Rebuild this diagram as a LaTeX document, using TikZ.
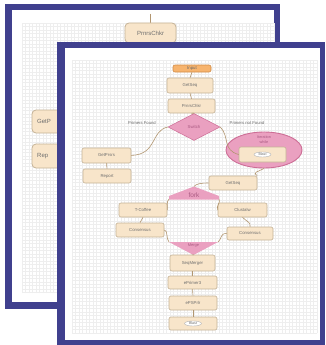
\documentclass[tikz,border=0pt]{standalone}
\usepackage{fontspec}
\setmainfont{Liberation Sans}
\usetikzlibrary{shapes.geometric}
\definecolor{frameblue}{RGB}{64,64,142}
\definecolor{boxfill}{RGB}{248,229,202}
\definecolor{boxdraw}{RGB}{196,178,150}
\definecolor{wire}{RGB}{178,150,112}
\definecolor{pinkfill}{RGB}{234,160,192}
\definecolor{pinkdraw}{RGB}{205,110,150}
\definecolor{pinktext}{RGB}{170,90,130}
\definecolor{orangefill}{RGB}{247,180,110}
\definecolor{orangedraw}{RGB}{210,140,70}
\definecolor{txt}{RGB}{110,110,110}
\definecolor{gridc}{RGB}{238,238,238}
\tikzset{
  stepbox/.style={draw=boxdraw, fill=boxfill, rounded corners=2pt, line width=0.6pt,
    inner sep=0pt, text=txt, font=\fontsize{4.3}{5}\selectfont},
  bigbox/.style={draw=boxdraw, fill=boxfill, rounded corners=4pt, line width=0.8pt,
    inner sep=0pt, text=txt, font=\fontsize{6}{7}\selectfont},
  pill/.style={ellipse, draw=gray!60, fill=white, inner sep=0pt, minimum width=17pt,
    minimum height=5pt, text=txt, font=\fontsize{3.6}{4}\selectfont},
  wireline/.style={draw=wire, line width=0.6pt},
  lbl/.style={text=txt, font=\fontsize{4.2}{5}\selectfont, inner sep=0pt},
  pinkshape/.style={fill=pinkfill, draw=pinkdraw, line width=0.5pt},
}
\begin{document}
\begin{tikzpicture}[x=1pt,y=-1pt]
\useasboundingbox (0,0) rectangle (325,345);
% ---------- back page ----------
\fill[frameblue] (5,4) rectangle (280,309);
\fill[white] (12,10) rectangle (274,302);
\draw[gridc, line width=0.3pt, step=3.5pt, shift={(22,23)}] (0,0) grid (252,270);
\draw[wireline, line width=0.8pt] (150,14) -- (150,23);
\node[bigbox, minimum width=51pt, minimum height=20pt] (bprm) at (150.5,33) {PrnrsChkr};
\node[bigbox, minimum width=50pt, minimum height=23pt] (bget) at (57,121.5) {};
\node[bigbox, minimum width=50pt, minimum height=24pt] (brep) at (57,156) {};
\node[text=txt, font=\fontsize{6}{7}\selectfont, anchor=west, inner sep=0pt] (bgett) at (37,121.5) {GetP};
\node[text=txt, font=\fontsize{6}{7}\selectfont, anchor=west, inner sep=0pt] (brept) at (37,156) {Rep};
% ---------- front page ----------
\fill[frameblue] (57,42) rectangle (325,347);
\fill[white] (65,48) rectangle (320,340);
\draw[gridc, line width=0.3pt, step=3.5pt, shift={(72,60)}] (0,0) grid (245,273);
% nodes
\node[stepbox, draw=orangedraw, fill=orangefill, minimum width=38pt, minimum height=7pt, text=gray!80!black] (input) at (192,68.5) {Input};
\node[stepbox, minimum width=46pt, minimum height=15pt] (getseq1) at (190,85.5) {GetSeq};
\node[stepbox, minimum width=47pt, minimum height=14pt] (prm) at (191.5,106) {PrnrsChkr};
\node[diamond, aspect=1.9, pinkshape, minimum width=52pt, minimum height=27pt, inner sep=0pt,
  text=pinktext, font=\fontsize{4.3}{5}\selectfont] (switch) at (194,127) {Switch};
\node[lbl] (pf) at (142,123) {Primers Found};
\node[lbl] (pnf) at (247,123) {Primers not Found};
\node[ellipse, fill=pinkfill, draw=pinkdraw, line width=0.9pt, minimum width=76pt, minimum height=36pt, inner sep=0pt] (iter) at (264,150) {};
\node[text=pinktext, font=\fontsize{3.8}{4.3}\selectfont, align=center, inner sep=0pt] (itert) at (264,139.5) {Iteration\\while};
\node[stepbox, minimum width=47pt, minimum height=15pt] (blast1) at (262.5,154.5) {};
\node[pill] (blast1t) at (262.5,154.5) {Blast};
\node[stepbox, minimum width=49pt, minimum height=15pt] (getprs) at (106.5,155.5) {GetPrsrs};
\node[stepbox, minimum width=48pt, minimum height=14pt] (report) at (107,176) {Report};
\node[stepbox, minimum width=48pt, minimum height=14pt] (getseq2) at (233,183) {GetSeq};
% fork shape
\coordinate (forkL) at (169,199);
\coordinate (forkR) at (219,199);
\coordinate (forkT) at (194,186.5);
\fill[pinkfill] (169,199.5) -- (169,196) -- (forkT) -- (219,196) -- (219,199.5) -- cycle;
\node[text=pinktext, font=\fontsize{6.5}{7}\selectfont, inner sep=0pt] (fork) at (194,195) {fork};
\node[stepbox, minimum width=48pt, minimum height=14pt] (tcoffee) at (143,210) {T-Coffee};
\node[stepbox, minimum width=49pt, minimum height=14pt] (clustal) at (242.5,210) {Clustalw};
\node[stepbox, minimum width=48pt, minimum height=14pt] (cons1) at (140,230) {Consensus};
\node[stepbox, minimum width=46pt, minimum height=13pt] (cons2) at (250,233.5) {Consensus};
% merge shape
\coordinate (mergeL) at (169,242);
\coordinate (mergeR) at (218,242);
\coordinate (mergeB) at (193.5,255);
\fill[pinkfill] (mergeL) -- (mergeR) -- (mergeB) -- cycle;
\node[text=pinktext, font=\fontsize{4}{4.5}\selectfont, inner sep=0pt] (merge) at (193.5,245.5) {Merge};
\node[stepbox, minimum width=45pt, minimum height=16pt] (seqm) at (192.5,263) {SeqMerger};
\node[stepbox, minimum width=49pt, minimum height=13pt] (eprim) at (192.5,282.5) {ePrimer3};
\node[stepbox, minimum width=48pt, minimum height=14pt] (epsp) at (193,303) {ePSPrlr};
\node[stepbox, minimum width=48pt, minimum height=13pt] (blast2) at (193,323.5) {};
\node[pill] (blast2t) at (193,323.5) {Blast};
% connectors
\draw[wireline] (input.south) -- (getseq1.north);
\draw[wireline] (getseq1.south) -- (prm.north);
\draw[wireline] (prm.south) -- (switch.north);
\draw[wireline] (switch.west) .. controls (150,131) and (158,154) .. (getprs.east);
\draw[wireline] (switch.east) .. controls (230,137) and (222,150) .. (blast1.west);
\draw[wireline] (getprs.south) -- (report.north);
\draw[wireline] (iter.south) .. controls (258,172) and (252,172) .. (getseq2.north east);
\draw[wireline] (getseq2.west) .. controls (200,183) and (196,184) .. (forkT);
\draw[wireline] (forkL) .. controls (166,202) and (168,206) .. (tcoffee.east);
\draw[wireline] (forkR) .. controls (221,202) and (216,206) .. (clustal.west);
\draw[wireline] (tcoffee.south) -- (cons1.north);
\draw[wireline] (clustal.south) .. controls (247,222) and (251,222) .. (cons2.north);
\draw[wireline] (cons1.east) .. controls (168,230) and (166,239) .. (mergeL);
\draw[wireline] (cons2.west) .. controls (220,233) and (222,239) .. (mergeR);
\draw[wireline] (mergeB) -- (seqm.north);
\draw[wireline] (seqm.south) -- (eprim.north);
\draw[wireline] (eprim.south) -- (epsp.north);
\draw[wireline] (epsp.south) -- (blast2.north);
\end{tikzpicture}
\end{document}
